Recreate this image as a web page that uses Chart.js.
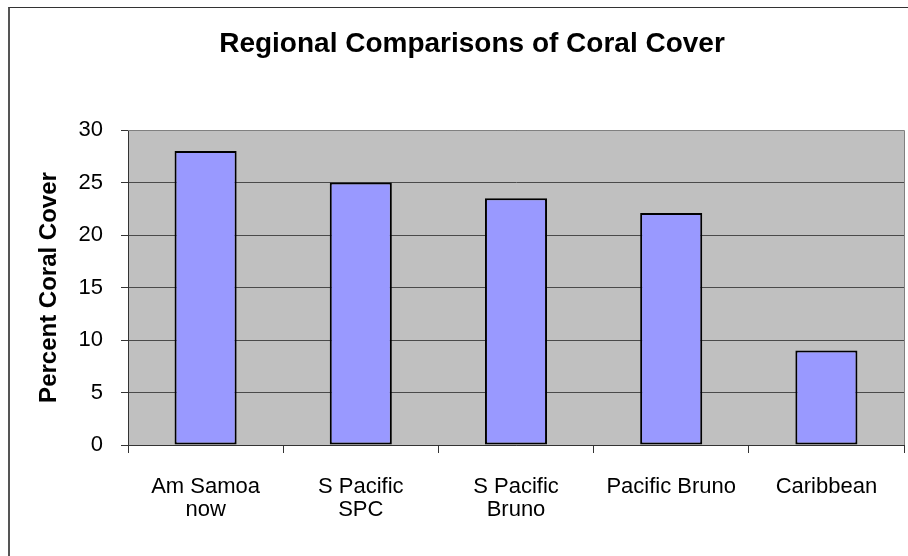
<!DOCTYPE html>
<html>
<head>
<meta charset="utf-8">
<script src="https://cdn.jsdelivr.net/npm/chart.js@4/dist/chart.umd.min.js"></script>
<style>
  html, body { margin: 0; padding: 0; background: #fff; overflow: hidden; width: 908px; height: 556px; }
  #frame { position: absolute; left: 8px; top: 7px; width: 1000px; height: 1000px;
           border-left: 2px solid #555; border-top: 1px solid #333; box-sizing: border-box; }
  #c { position: absolute; left: 0; top: 0; }
</style>
</head>
<body>
<div id="frame"></div>
<canvas id="c" width="940" height="556"></canvas>
<script>
const categories = [['Am Samoa', 'now'], ['S Pacific', 'SPC'], ['S Pacific', 'Bruno'], 'Pacific Bruno', 'Caribbean'];
const coralCover = [28, 25, 23.5, 22.1, 9];
const yTicks = [0, 5, 10, 15, 20, 25, 30];
const chartTitle = 'Regional Comparisons of Coral Cover';
const yTitle = 'Percent Coral Cover';

const FONT = "'Liberation Sans', Arial, sans-serif";

const plotBg = {
  id: 'plotBg',
  beforeDraw(chart) {
    const {ctx, chartArea: a} = chart;
    ctx.save();
    ctx.fillStyle = '#C0C0C0';
    ctx.fillRect(a.left, a.top, a.right - a.left, a.bottom - a.top);
    ctx.restore();
  },
  afterDraw(chart) {
    const {ctx, chartArea: a} = chart;
    ctx.save();
    ctx.strokeStyle = '#808080';
    ctx.lineWidth = 1;
    ctx.beginPath();
    ctx.moveTo(a.left, Math.round(a.top) + 0.5);
    ctx.lineTo(Math.round(a.right) + 0.5, Math.round(a.top) + 0.5);
    ctx.lineTo(Math.round(a.right) + 0.5, a.bottom);
    ctx.stroke();
    ctx.restore();
  }
};

new Chart(document.getElementById('c'), {
  type: 'bar',
  data: {
    labels: categories,
    datasets: [{
      data: coralCover,
      backgroundColor: '#9999FF',
      borderColor: '#000000',
      borderWidth: 2,
      borderSkipped: false,
      barPercentage: 0.4,
      categoryPercentage: 1.0
    }]
  },
  options: {
    responsive: false,
    animation: false,
    devicePixelRatio: 1,
    layout: { padding: { left: 40, right: 36, top: 0, bottom: 0 } },
    plugins: {
      legend: { display: false },
      tooltip: { enabled: false },
      title: {
        display: true,
        text: chartTitle,
        color: '#000',
        font: { family: FONT, size: 28, weight: 'bold', lineHeight: 1.2 },
        padding: { top: 27.2, bottom: 69.2 }
      }
    },
    scales: {
      x: {
        grid: { display: true, drawOnChartArea: false, drawTicks: true, tickLength: 8, color: '#333', offset: true },
        border: { display: true, color: '#333', width: 1 },
        ticks: { color: '#000', font: { family: FONT, size: 22, lineHeight: 1.05 }, padding: 22.5, maxRotation: 0, autoSkip: false },
        afterFit(scale) { scale.height = 111; }
      },
      y: {
        min: 0, max: 30,
        afterBuildTicks(scale) { scale.ticks = yTicks.map(v => ({ value: v })); },
        grid: { color: '#4a4a4a', tickColor: '#333', tickLength: 7, drawTicks: true },
        border: { display: true, color: '#333', width: 1 },
        ticks: { color: '#000', font: { family: FONT, size: 22 }, padding: 18 },
        title: {
          display: true,
          text: yTitle,
          color: '#000',
          font: { family: FONT, size: 24, weight: 'bold', lineHeight: 0.8 },
          padding: { top: 0, bottom: 0 }
        },
        afterFit(scale) { scale.width = 88; }
      }
    }
  },
  plugins: [plotBg]
});
</script>
</body>
</html>
